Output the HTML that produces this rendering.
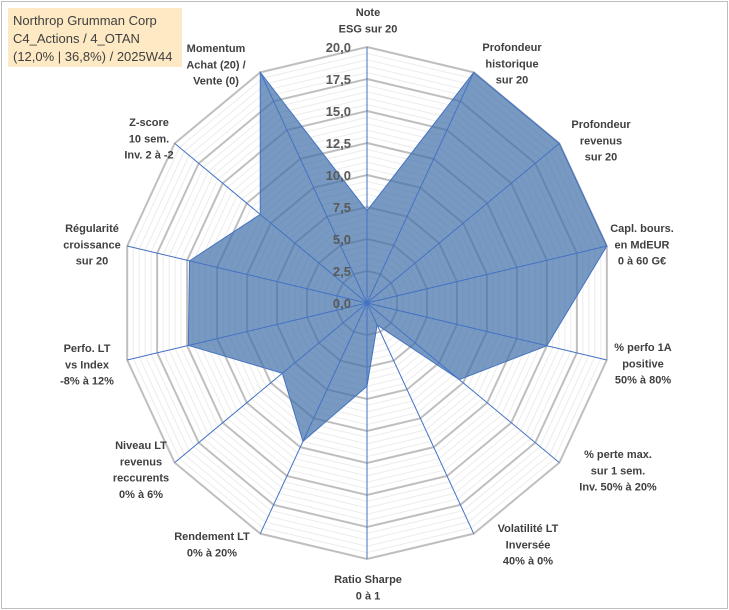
<!DOCTYPE html>
<html><head><meta charset="utf-8"><style>
body{margin:0;background:#fff;}
#wrap{position:relative;width:729px;height:610px;overflow:hidden;}
svg{position:absolute;left:0;top:0;}
</style></head><body>
<div id="wrap">
<svg id="chart" width="729" height="610" xmlns="http://www.w3.org/2000/svg">
<rect x="1.5" y="1.5" width="726" height="607" fill="#fff" stroke="#bdbdbd" stroke-width="1"/>
<rect x="8" y="8" width="174" height="59" fill="#fde9c3"/>
<text font-family="Liberation Sans, sans-serif" font-size="13" fill="#404040">
<tspan x="13" y="25">Northrop Grumman Corp</tspan>
<tspan x="13" y="43">C4_Actions / 4_OTAN</tspan>
<tspan x="13" y="61">(12,0% | 36,8%) / 2025W44</tspan>
</text>
<g id="grid"></g><g id="series"></g><g id="axes"></g><g id="ticks"></g><g id="labels"></g>
</svg>
</div>
<script>
const categories = ["Note|ESG sur 20","Profondeur|historique|sur 20","Profondeur|revenus|sur 20","Capl. bours.|en MdEUR|0 à 60 G€","% perfo 1A|positive|50% à 80%","% perte max.|sur 1 sem.|Inv. 50% à 20%","Volatilité LT|Inversée|40% à 0%","Ratio Sharpe|0 à 1","Rendement LT|0% à 20%","Niveau LT|revenus|reccurents|0% à 6%","Perfo. LT|vs Index|-8% à 12%","Régularité|croissance|sur 20","Z-score|10 sem.|Inv. 2 à -2","Momentum|Achat (20) /|Vente (0)"];
const values = [7.2,20,20,20,15.0,9.6,1.9,6.5,12.0,8.8,14.9,14.8,11.1,20];
const tickLabels = ["0,0","2,5","5,0","7,5","10,0","12,5","15,0","17,5","20,0"];
const labelPos = [[368,12],[512,47],[601,124],[642,228],[643,347],[618,454],[528,528],[368,579],[212,536],[141,445],[87,348],[92,228],[149,122],[216,48]];
const cx=367, cy=303, Rx=246, Ry=256, maxV=20, N=categories.length;
const NS="http://www.w3.org/2000/svg";
function pt(i,v){const a=i*2*Math.PI/N;const f=v/maxV;return [cx+f*Rx*Math.sin(a), cy-f*Ry*Math.cos(a)];}
function mk(tag,attrs,parent){const e=document.createElementNS(NS,tag);for(const k in attrs)e.setAttribute(k,attrs[k]);parent.appendChild(e);return e;}
const grid=document.getElementById('grid');
for(let s=1;s<=40;s++){
  const v=s*0.5;const major=(s%5===0);
  const pts=[];for(let i=0;i<N;i++)pts.push(pt(i,v).join(','));
  const p=mk('polygon',{points:pts.join(' '),fill:'none',stroke:major?'#bfbfbf':'#ececec','stroke-width':major?2:1},grid);
  
  
}
const ser=document.getElementById('series');
const sp=values.map((v,i)=>pt(i,v).join(',')).join(' ');
const poly=mk('polygon',{points:sp,fill:'#3f6fa8','fill-opacity':0.7,stroke:'#4472c4','stroke-width':1},ser);


const axes=document.getElementById('axes');
for(let i=0;i<N;i++){
  const [x,y]=pt(i,maxV);
  const l=mk('line',{x1:cx,y1:cy,x2:x,y2:y,stroke:'#4472c4','stroke-width':1},axes);
  
  
}
const ticks=document.getElementById('ticks');
tickLabels.forEach((t,k)=>{
  const v=k*2.5;
  const tx=mk('text',{x:351,y:cy-v/maxV*Ry+5,'text-anchor':'end','font-family':'Liberation Sans, sans-serif','font-size':13,'font-weight':'bold',fill:'#595959'},ticks);
  tx.textContent=t;
  
  
});
const labels=document.getElementById('labels');
categories.forEach((c,i)=>{
  const [x,y]=labelPos[i];
  const t=mk('text',{'text-anchor':'middle','font-family':'Liberation Sans, sans-serif','font-size':11,'font-weight':'bold',fill:'#404040'},labels);
  
  
  c.split('|').forEach((ln,j)=>{const ts=mk('tspan',{x:x,y:y+4+j*16.3},t);ts.textContent=ln;});
});
</script>
</body></html>
